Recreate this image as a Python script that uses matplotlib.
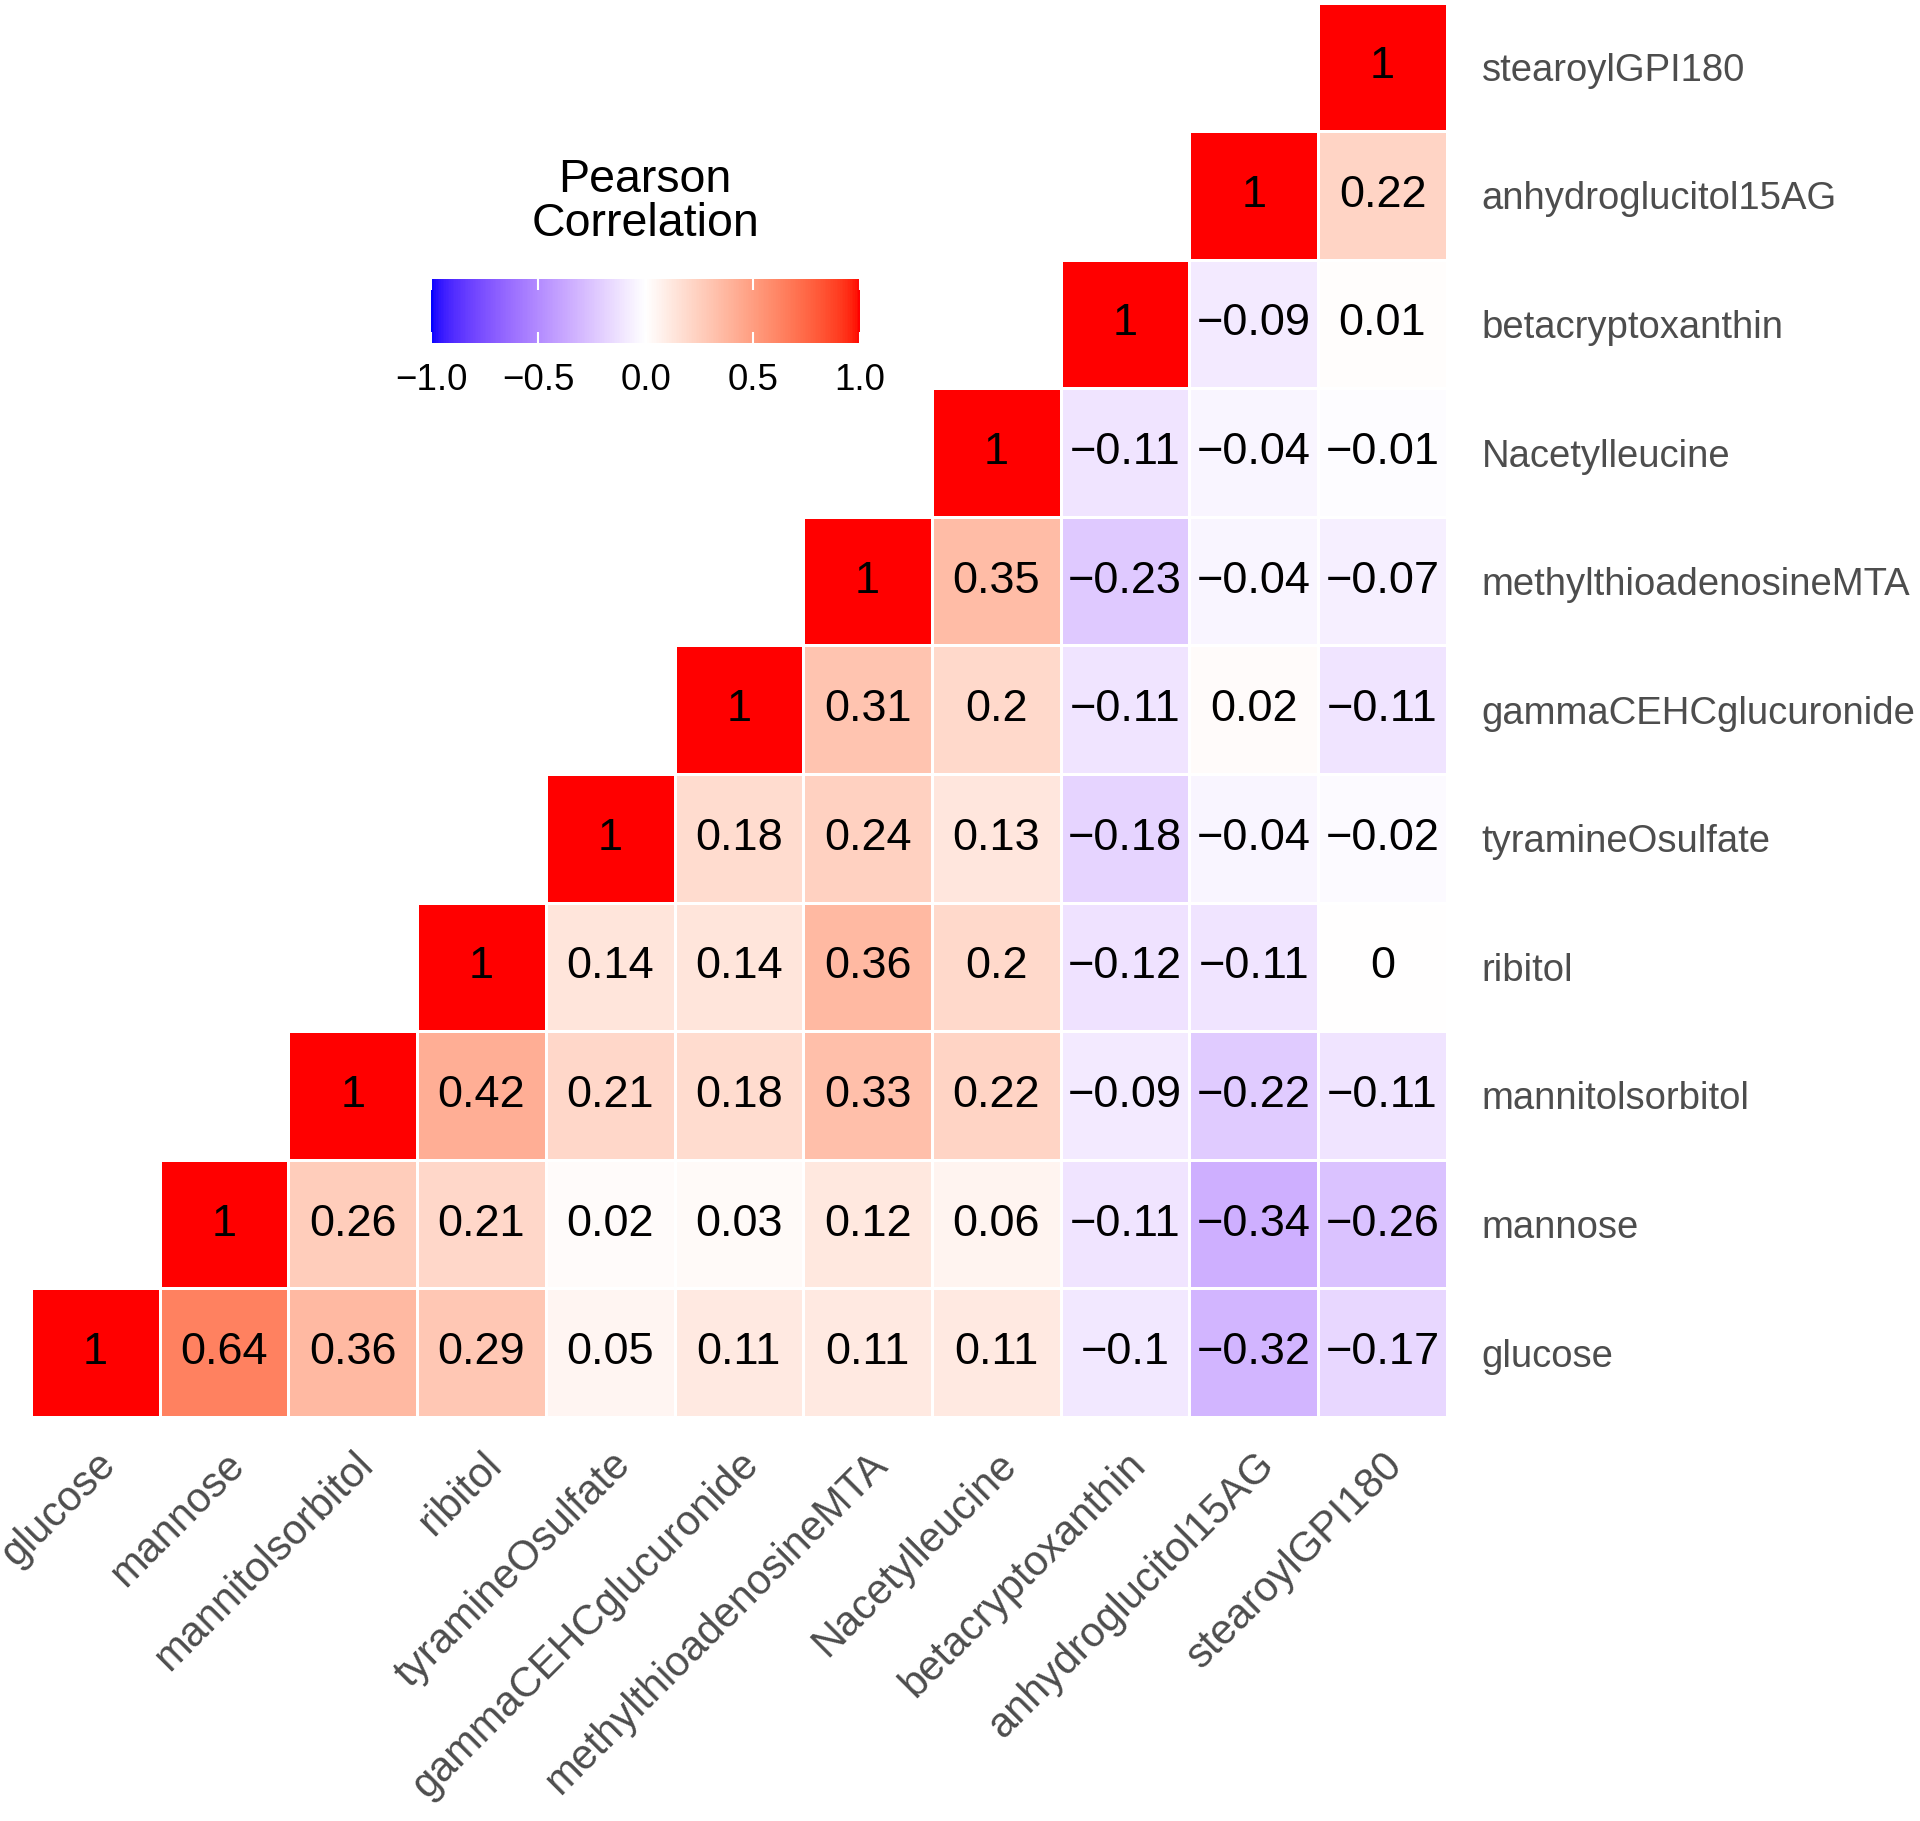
import numpy as np
import matplotlib.pyplot as plt
from matplotlib.colors import ListedColormap, Normalize
from matplotlib.cm import ScalarMappable

plt.rcParams['font.family'] = ['Liberation Sans', 'DejaVu Sans']

metabolites = ['glucose', 'mannose', 'mannitolsorbitol', 'ribitol', 'tyramineOsulfate',
               'gammaCEHCglucuronide', 'methylthioadenosineMTA', 'Nacetylleucine',
               'betacryptoxanthin', 'anhydroglucitol15AG', 'stearoylGPI180']

# each row: correlations from the diagonal to the last metabolite
r_glucose = [1, 0.64, 0.36, 0.29, 0.05, 0.11, 0.11, 0.11, -0.1, -0.32, -0.17]
r_mannose = [1, 0.26, 0.21, 0.02, 0.03, 0.12, 0.06, -0.11, -0.34, -0.26]
r_mannitolsorbitol = [1, 0.42, 0.21, 0.18, 0.33, 0.22, -0.09, -0.22, -0.11]
r_ribitol = [1, 0.14, 0.14, 0.36, 0.2, -0.12, -0.11, 0]
r_tyramine = [1, 0.18, 0.24, 0.13, -0.18, -0.04, -0.02]
r_gammacehc = [1, 0.31, 0.2, -0.11, 0.02, -0.11]
r_mta = [1, 0.35, -0.23, -0.04, -0.07]
r_nacetylleucine = [1, -0.11, -0.04, -0.01]
r_betacrypto = [1, -0.09, 0.01]
r_anhydro = [1, 0.22]
r_stearoyl = [1]

cbar_ticks = [-1.0, -0.5, 0.0, 0.5, 1.0]
cbar_tick_labels = ['\u22121.0', '\u22120.5', '0.0', '0.5', '1.0']

rows = [r_glucose, r_mannose, r_mannitolsorbitol, r_ribitol, r_tyramine, r_gammacehc,
        r_mta, r_nacetylleucine, r_betacrypto, r_anhydro, r_stearoyl]
n = len(metabolites)
mat = np.full((n, n), np.nan)
for i, vals in enumerate(rows):
    mat[i, i:] = vals


# blue - white - red gradient interpolated in Lab space (like ggplot2)
WHITE_PT = np.array([0.95047, 1.0, 1.08883])
M = np.array([[0.4124, 0.3576, 0.1805], [0.2126, 0.7152, 0.0722], [0.0193, 0.1192, 0.9505]])


def to_lab(rgb):
    rgb = np.asarray(rgb, float)
    lin = np.where(rgb <= 0.04045, rgb / 12.92, ((rgb + 0.055) / 1.055) ** 2.4)
    xyz = M @ lin / WHITE_PT
    f = np.where(xyz > 0.008856, np.cbrt(xyz), 7.787 * xyz + 16 / 116)
    return np.array([116 * f[1] - 16, 500 * (f[0] - f[1]), 200 * (f[1] - f[2])])


def from_lab(lab):
    L, a, b = lab
    fy = (L + 16) / 116
    fx = fy + a / 500
    fz = fy - b / 200
    f = np.array([fx, fy, fz])
    xyz = np.where(f ** 3 > 0.008856, f ** 3, (f - 16 / 116) / 7.787) * WHITE_PT
    lin = np.linalg.solve(M, xyz)
    lin = np.clip(lin, 0, 1)
    rgb = np.where(lin <= 0.0031308, lin * 12.92, 1.055 * lin ** (1 / 2.4) - 0.055)
    return np.clip(rgb, 0, 1)


lab_blue, lab_white, lab_red = to_lab([0, 0, 1]), to_lab([1, 1, 1]), to_lab([1, 0, 0])
colors = []
for t in np.linspace(-1, 1, 256):
    if t < 0:
        lab = lab_white + (lab_blue - lab_white) * (-t)
    else:
        lab = lab_white + (lab_red - lab_white) * t
    colors.append(from_lab(lab))
cmap = ListedColormap(colors)
norm = Normalize(-1, 1)

fig = plt.figure(figsize=(19.2, 18.21), dpi=100)
ax = fig.add_axes([0.0161, 0.2219, 0.7375, 0.7767])

masked = np.ma.masked_invalid(mat)
ax.pcolormesh(np.arange(n + 1), np.arange(n + 1), masked, cmap=cmap, norm=norm,
              edgecolors='white', linewidth=0.8)

for i in range(n):
    for j in range(i, n):
        v = mat[i, j]
        label = ('%g' % round(v, 2)).replace('-', '\u2212')
        ax.text(j + 0.5, i + 0.5, label, ha='center', va='center', fontsize=32.5, color='black')

ax.set_xlim(0, n)
ax.set_ylim(0, n)
for s in ax.spines.values():
    s.set_visible(False)

ax.set_xticks(np.arange(n) + 0.5)
ax.set_xticklabels(metabolites, rotation=45, ha='right', va='top', rotation_mode='anchor',
                   fontsize=30, color='#4d4d4d')
ax.yaxis.tick_right()
ax.set_yticks(np.arange(n) + 0.5)
ax.set_yticklabels(metabolites, fontsize=27.5, color='#4d4d4d')
ax.tick_params(axis='both', length=0)
ax.tick_params(axis='y', pad=25)
ax.tick_params(axis='x', pad=20)

# colour bar legend
cax = fig.add_axes([0.2245, 0.8116, 0.2234, 0.0351])
cb = fig.colorbar(ScalarMappable(norm=norm, cmap=cmap), cax=cax, orientation='horizontal')
cb.outline.set_visible(False)
cb.set_ticks(cbar_ticks)
cb.set_ticklabels(cbar_tick_labels)
cax.xaxis.set_ticks_position('both')
cax.tick_params(axis='x', direction='in', length=8, width=1.5, color='white',
                labelsize=26.5, labelcolor='black', pad=14, labeltop=False)

fig.text(0.336, 0.865, 'Pearson\nCorrelation', ha='center', va='bottom', fontsize=33.5,
         linespacing=1.0)

fig.savefig('out.png', dpi=100)
